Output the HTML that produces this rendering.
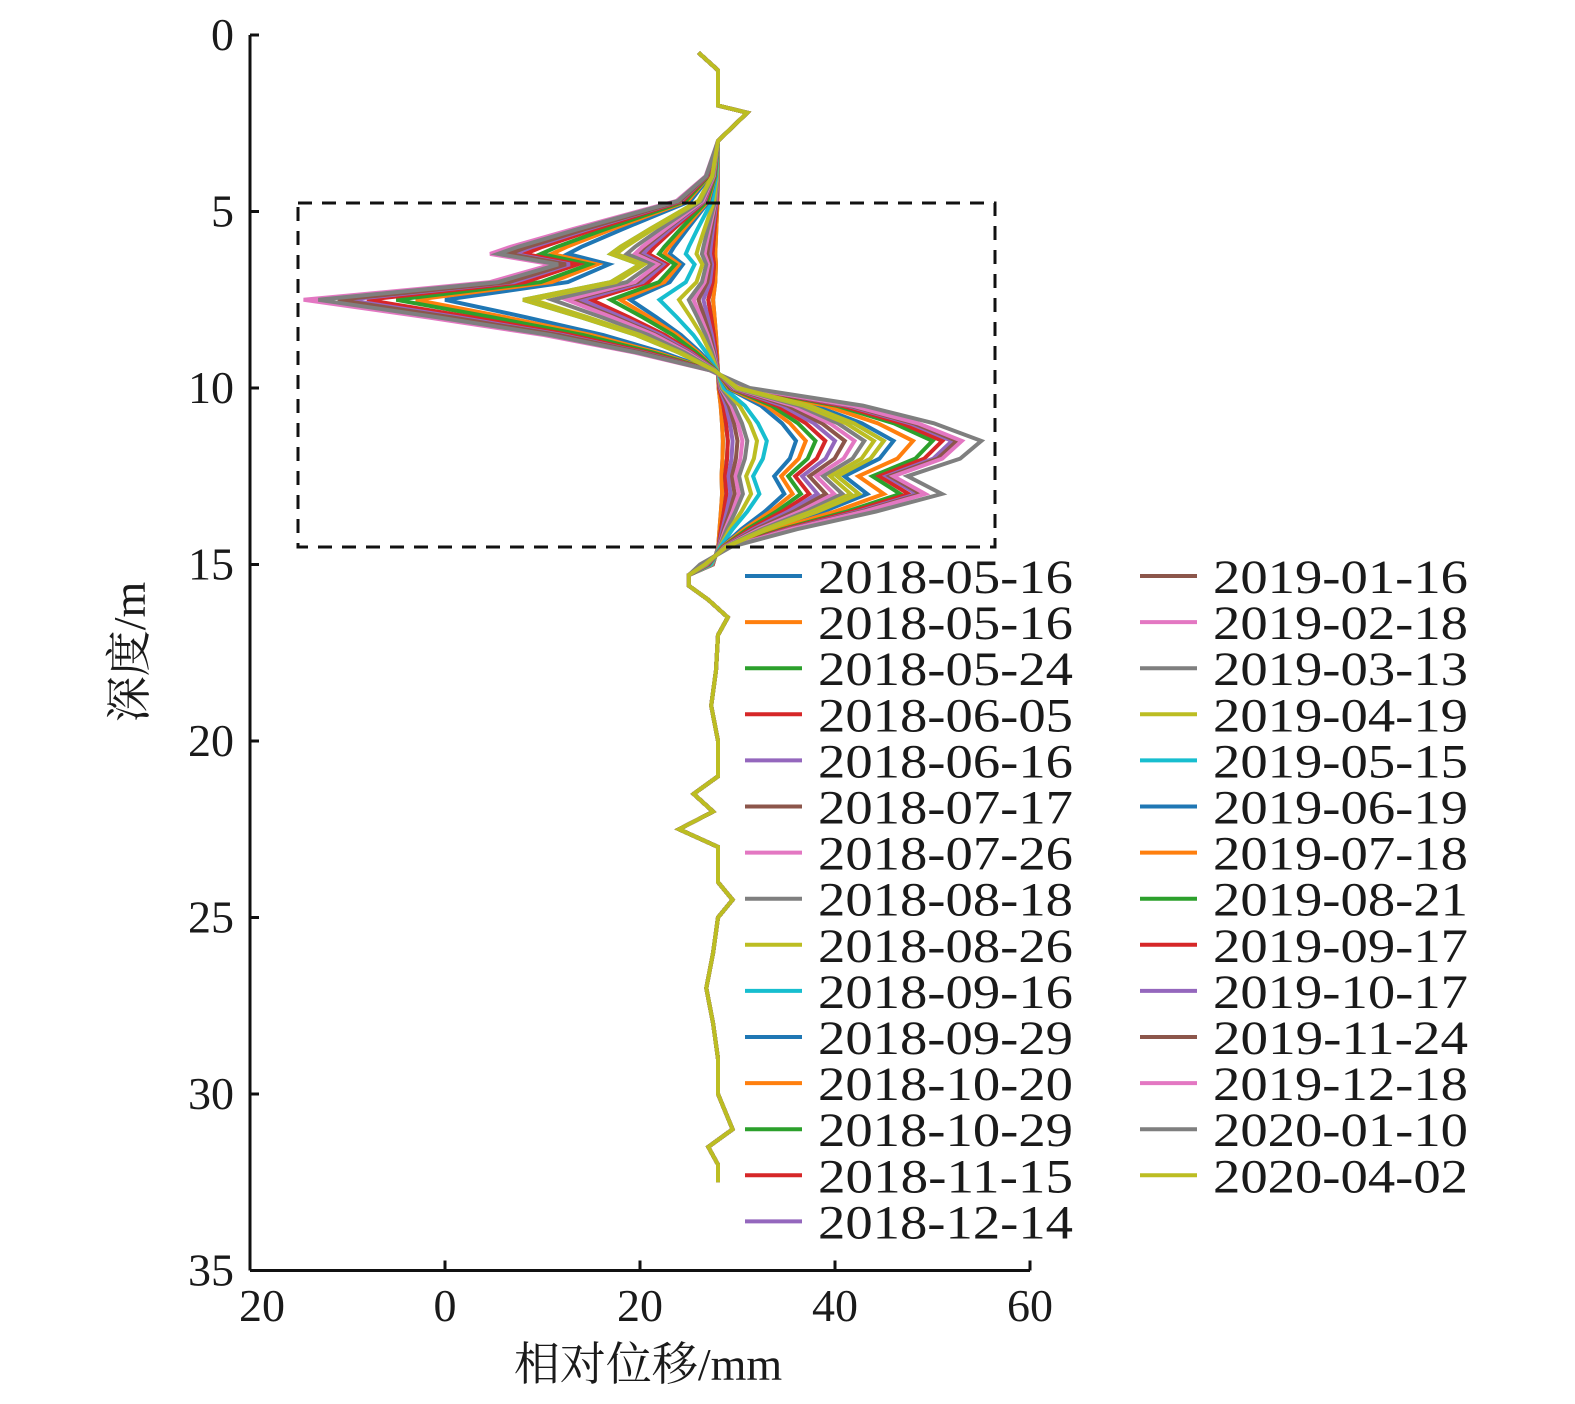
<!DOCTYPE html>
<html><head><meta charset="utf-8"><style>
html,body{margin:0;padding:0;background:#fff;}
svg{display:block;}
text{font-family:"Liberation Serif","Noto Serif CJK SC",serif;fill:#1a1a1a;}
</style></head><body>
<svg id="chart" width="1575" height="1404" viewBox="0 0 1575 1404" xmlns="http://www.w3.org/2000/svg">
<g id="lines"></g>
<rect x="298" y="203" width="697" height="344" fill="none" stroke="#111" stroke-width="3" stroke-dasharray="14,10"/>
<g id="axes"></g>
<g id="legend"></g>
</svg>
<script>
const dates = ["2018-05-16","2018-05-16","2018-05-24","2018-06-05","2018-06-16","2018-07-17","2018-07-26","2018-08-18","2018-08-26","2018-09-16","2018-09-29","2018-10-20","2018-10-29","2018-11-15","2018-12-14","2019-01-16","2019-02-18","2019-03-13","2019-04-19","2019-05-15","2019-06-19","2019-07-18","2019-08-21","2019-09-17","2019-10-17","2019-11-24","2019-12-18","2020-01-10","2020-04-02"];
const colors = ["#1f77b4","#ff7f0e","#2ca02c","#d62728","#9467bd","#8c564b","#e377c2","#7f7f7f","#bcbd22","#17becf"];
const upperDepths = [0.5,1,2,2.2,3,4,4.7,5.5,6,6.2,6.5,7,7.5,8,8.5,9,9.5,10,10.5,11,11.5,12,12.5,13,13.5,14,14.5,15,15.3];
const baseUpper  = [-2,0,0,3,0,0,0,0,0,0,0,0,0,0,0,0,0,0,0,0,0,0,0,0,0,0,0,-0.5,-3];
const shapeLeft  = [0,0,0,0,0,0.03,0.1,0.35,0.5,0.55,0.4,0.55,1,0.7,0.42,0.2,0.02,0,0,0,0,0,0,0,0,0,0,0,0];
const shapeRight = [0,0,0,0,0,0,0,0,0,0,0,0,0,0,0,0,0,0.12,0.55,0.82,1,0.92,0.72,0.85,0.6,0.3,0.05,-0.05,0];
const minDisp  = [-0.5,-0.5,-1,-1,-1.5,-2,-2.5,-3,-4,-6,-9,-10,-11,-13,-14,-15,-15.5,-17,-19,-20,-28,-31,-33,-36,-38,-39,-42.5,-41,-20];
const peakDisp = [0.5,0.5,1,1,1.5,2,2.5,3,4,5,8,9,10,11,12,13,14,15,16,17,18,20,22,23,24,24.5,25,27,17];
const lowerDepths = [15.6,16,16.5,17,18,19,20,21,21.5,22,22.5,23,24,24.5,25,26,27,28,29,30,31,31.5,32,32.5];
const lowerValues = [25,27,29,28,27.8,27.3,28,28,25.5,27.5,24,28,28,29.5,28,27.5,26.8,27.5,28,28,29.5,27,28,28];

const X0=445, XS=9.75, Y0=35, YS=35.3;
const xs=v=>X0+v*XS, ys=d=>Y0+d*YS;
const NS="http://www.w3.org/2000/svg";
const lines=document.getElementById('lines');
for(let i=0;i<dates.length;i++){
  const pts=[];
  for(let j=0;j<upperDepths.length;j++){
    const v=28+baseUpper[j]+shapeLeft[j]*minDisp[i]+shapeRight[j]*peakDisp[i];
    pts.push(xs(v).toFixed(1)+','+ys(upperDepths[j]).toFixed(1));
  }
  for(let j=0;j<lowerDepths.length;j++) pts.push(xs(lowerValues[j]).toFixed(1)+','+ys(lowerDepths[j]).toFixed(1));
  const p=document.createElementNS(NS,'polyline');
  p.setAttribute('points',pts.join(' '));
  p.setAttribute('fill','none');
  p.setAttribute('stroke',colors[i%10]);
  p.setAttribute('stroke-width','4');
  p.setAttribute('stroke-linejoin','miter');
  
  
  lines.appendChild(p);
}
const axes=document.getElementById('axes');
function mk(tag,attrs,parent,text){const e=document.createElementNS(NS,tag);for(const k in attrs)e.setAttribute(k,attrs[k]);if(text!==undefined)e.textContent=text;parent.appendChild(e);return e;}
const yTicks=[0,5,10,15,20,25,30,35];
const xTicks=[-20,0,20,40,60];
const xTickLabels=["20","0","20","40","60"];
let a=mk('line',{x1:250,y1:ys(0),x2:250,y2:ys(35),stroke:'#111','stroke-width':3},axes);


a=mk('line',{x1:250,y1:ys(35),x2:xs(60),y2:ys(35),stroke:'#111','stroke-width':3},axes);


yTicks.forEach(t=>{
  mk('line',{x1:250,y1:ys(t),x2:259,y2:ys(t),stroke:'#111','stroke-width':3},axes);
  const tx=mk('text',{x:234,y:ys(t)+15,'text-anchor':'end','font-size':46},axes,String(t));
  
  
});
xTicks.forEach((t,k)=>{
  const x=t===-20?250:xs(t);
  mk('line',{x1:x,y1:ys(35),x2:x,y2:ys(35)-10,stroke:'#111','stroke-width':3},axes);
  const tx=mk('text',{x:t===-20?262:x,y:1321,'text-anchor':'middle','font-size':46},axes,xTickLabels[k]);
  
  
});
let tt=mk('text',{x:648,y:1380,'text-anchor':'middle','font-size':46},axes,'相对位移/mm');


tt=mk('text',{x:0,y:0,'text-anchor':'middle','font-size':46,transform:'translate(145,652) rotate(-90)'},axes,'深度/m');


const leg=document.getElementById('legend');
dates.forEach((d,i)=>{
  const col=i<15?0:1, row=i<15?i:i-15;
  const lx=col?1140:745, y=576+row*46.1;
  const g=mk('g',{},leg);
  
  
  mk('line',{x1:lx,y1:y,x2:lx+57,y2:y,stroke:colors[i%10],'stroke-width':4},g);
  mk('text',{x:lx+73,y:y+17,'font-size':48,textLength:255,lengthAdjust:'spacingAndGlyphs'},g,d);
});
</script>
</body></html>
